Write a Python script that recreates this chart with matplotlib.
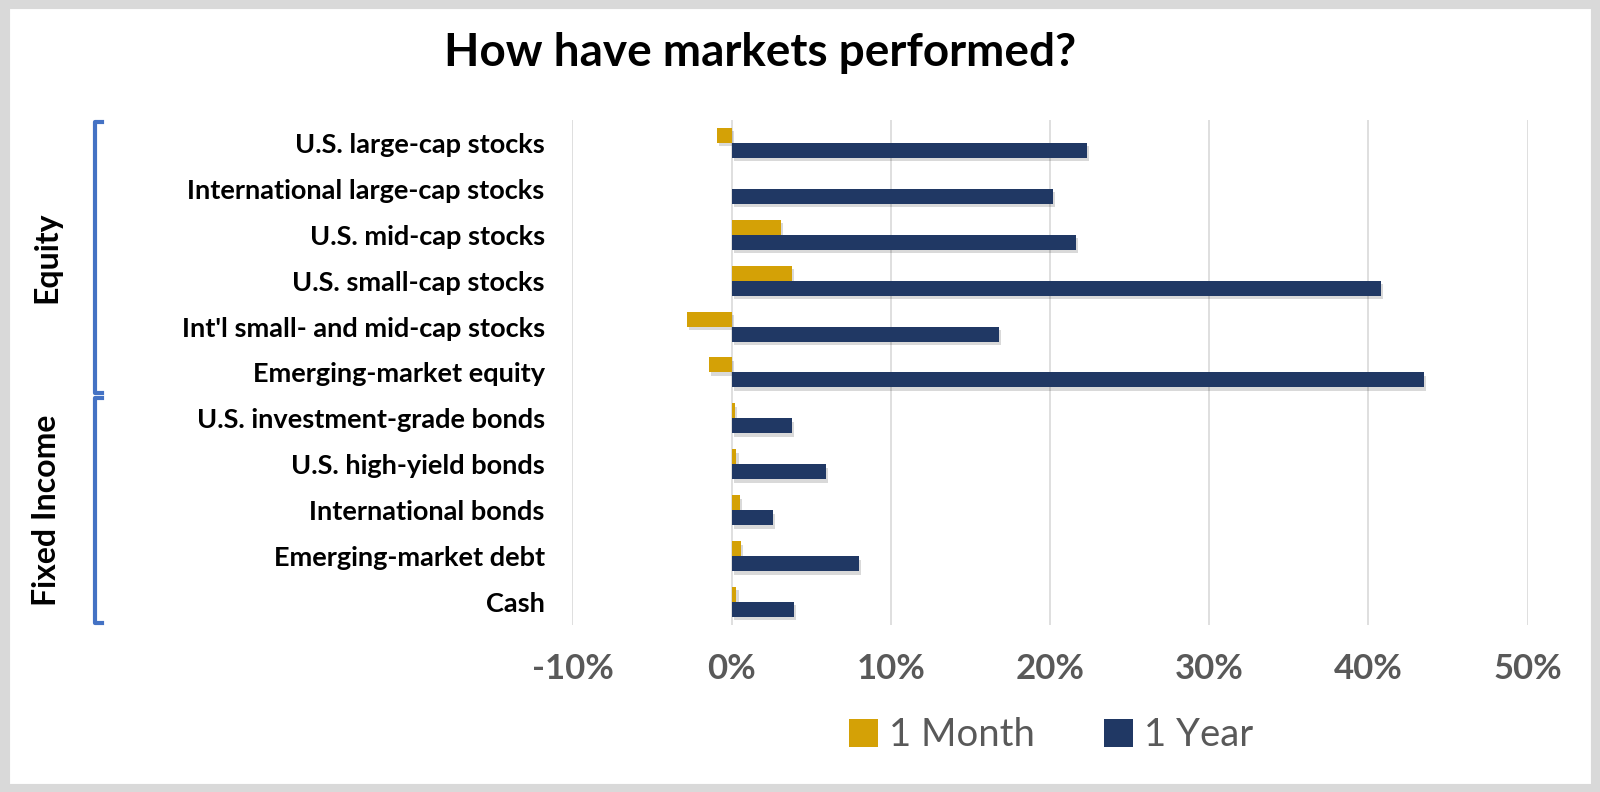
import matplotlib
matplotlib.use("Agg")
import matplotlib.pyplot as plt
import matplotlib.patheffects as pe
from matplotlib.patches import Patch, Rectangle
from matplotlib.lines import Line2D
import matplotlib.transforms as mtransforms
import numpy as np

categories = [
    "U.S. large-cap stocks",
    "International large-cap stocks",
    "U.S. mid-cap stocks",
    "U.S. small-cap stocks",
    "Int'l small- and mid-cap stocks",
    "Emerging-market equity",
    "U.S. investment-grade bonds",
    "U.S. high-yield bonds",
    "International bonds",
    "Emerging-market debt",
    "Cash",
]
one_month = [-0.9, 0.0, 3.1, 3.8, -2.8, -1.4, 0.2, 0.3, 0.5, 0.6, 0.3]
one_year = [22.3, 20.2, 21.6, 40.8, 16.8, 43.5, 3.8, 5.9, 2.6, 8.0, 3.9]
groups = [("Equity", 0, 5), ("Fixed Income", 6, 10)]
xticks = [-10, 0, 10, 20, 30, 40, 50]
xticklabels = ["-10%", "0%", "10%", "20%", "30%", "40%", "50%"]

GOLD = "#D4A106"
NAVY = "#203864"
GRAY_TXT = "#595959"
BLUE = "#4472C4"

plt.rcParams["font.family"] = ["Lato", "DejaVu Sans"]

fig = plt.figure(figsize=(16, 7.92), dpi=100)
ax = fig.add_axes([0.3578, 0.2109, 0.5970, 0.6376])

y = np.arange(len(categories))
h = 0.327
shadow = [pe.SimplePatchShadow(offset=(1.5, -2.5), shadow_rgbFace="#000000", alpha=0.15), pe.Normal()]
b1 = ax.barh(y - h / 2, one_month, height=h, color=GOLD, label="1 Month", zorder=3)
b2 = ax.barh(y + h / 2, one_year, height=h, color=NAVY, label="1 Year", zorder=3)
for b in list(b1) + list(b2):
    b.set_path_effects(shadow)

ax.set_xlim(-10, 50)
ax.set_ylim(len(categories) - 0.5, -0.5)
ax.set_xticks(xticks)
ax.set_xticklabels(xticklabels, fontsize=25, fontweight="bold", color=GRAY_TXT)
ax.set_yticks(y)
ax.set_yticklabels(categories, fontsize=19.5, fontweight="bold", color="black")
ax.tick_params(axis="both", length=0)
ax.tick_params(axis="x", pad=20)
ax.tick_params(axis="y", pad=20)
ax.grid(axis="x", color="#D9D9D9", linewidth=1.2, zorder=0)
for s in ax.spines.values():
    s.set_visible(False)

# group brackets and labels
trans = mtransforms.blended_transform_factory(fig.transFigure, ax.transData)
for name, i0, i1 in groups:
    top = i0 - 0.45
    bot = i1 + 0.45
    xv = 0.0595
    xt = 0.0640
    line = Line2D([xt, xv, xv, xt], [top, top, bot, bot], transform=trans,
                  color=BLUE, linewidth=3, clip_on=False)
    fig.add_artist(line)
    fig.text(0.029, (i0 + i1) / 2, name, transform=trans, rotation=90,
             ha="center", va="center", fontsize=23, fontweight="bold")

fig.text(0.475, 0.933, "How have markets performed?", ha="center", va="center",
         fontsize=33, fontweight="bold")

handles = [Patch(facecolor=GOLD, label="1 Month"), Patch(facecolor=NAVY, label="1 Year")]
fig.legend(handles=handles, loc="center", bbox_to_anchor=(0.657, 0.072), ncol=2,
           frameon=False, fontsize=27.5, labelcolor=GRAY_TXT, handlelength=0.75,
           handleheight=0.75, handletextpad=0.3, columnspacing=1.8)

# border
fig.add_artist(Rectangle((0.0025, 0.004), 0.995, 0.992, transform=fig.transFigure,
                         fill=False, edgecolor="#D9D9D9", linewidth=8))

fig.savefig("out.png", dpi=100, facecolor="white")
